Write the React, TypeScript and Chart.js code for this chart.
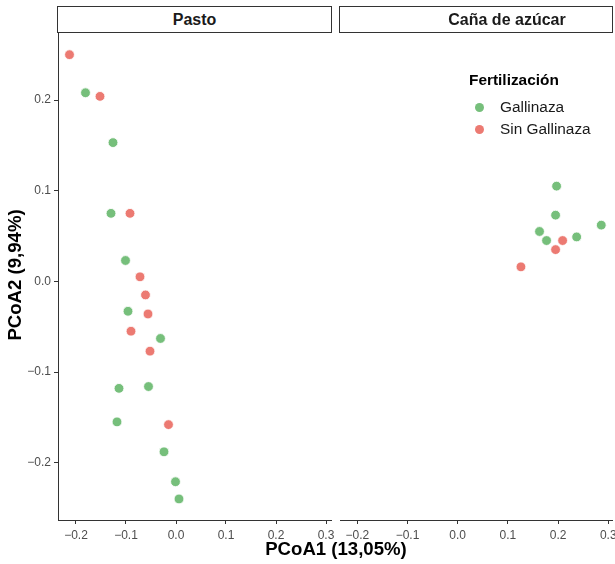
import React, { useEffect, useRef } from 'react';
import { Chart, registerables } from 'chart.js';

Chart.register(...registerables);

// ---- data ----
const xTickValues = [-0.2, -0.1, 0, 0.1, 0.2, 0.3];
const yTickValues = [-0.2, -0.1, 0, 0.1, 0.2];

const groupLabels = ['Gallinaza', 'Sin Gallinaza'];
const panelLabels = ['Pasto', 'Caña de azúcar'];

const pastoGallinazaX = [-0.181, -0.126, -0.130, -0.101, -0.096, -0.031, -0.114, -0.055, -0.118, -0.024, -0.001, 0.006];
const pastoGallinazaY = [0.208, 0.153, 0.075, 0.023, -0.033, -0.063, -0.118, -0.116, -0.155, -0.188, -0.221, -0.240];
const pastoSinX = [-0.213, -0.152, -0.092, -0.072, -0.061, -0.056, -0.090, -0.052, -0.015];
const pastoSinY = [0.250, 0.204, 0.075, 0.005, -0.015, -0.036, -0.055, -0.077, -0.158];

const canaGallinazaX = [0.197, 0.195, 0.163, 0.177, 0.237, 0.286];
const canaGallinazaY = [0.105, 0.073, 0.055, 0.045, 0.049, 0.062];
const canaSinX = [0.209, 0.195, 0.126];
const canaSinY = [0.045, 0.035, 0.016];

const GREEN = '#76BF7B';
const RED = '#EC7A72';
const FONT = '"Liberation Sans", Arial, Helvetica, sans-serif';

const toPoints = (xs: number[], ys: number[]) => xs.map((x, i) => ({ x, y: ys[i] }));

const fmt = (v: number) => {
  const s = Math.abs(v) < 1e-9 ? '0.0' : v.toFixed(1);
  return s.replace('-', '\u2212');
};

function makeOptions(xMin: number, xMax: number, showY: boolean, padRight: number): any {
  const zeroPad = (s: any) => {
    s.paddingTop = 0;
    s.paddingBottom = 0;
    s.paddingLeft = 0;
    s.paddingRight = 0;
  };
  return {
    responsive: false,
    maintainAspectRatio: false,
    animation: false,
    layout: { autoPadding: false, padding: { left: 0, right: padRight, top: 0, bottom: 0 } },
    plugins: { legend: { display: false }, tooltip: { enabled: false } },
    scales: {
      x: {
        type: 'linear',
        min: xMin,
        max: xMax,
        afterBuildTicks: (s: any) => {
          s.ticks = xTickValues.map((v) => ({ value: v }));
        },
        afterFit: (s: any) => {
          s.height = 44;
          zeroPad(s);
        },
        grid: { display: true, drawOnChartArea: false, drawTicks: true, tickLength: 4, color: '#333333', tickColor: '#333333' },
        border: { display: true, color: '#333333', width: 1 },
        ticks: {
          color: '#4D4D4D',
          font: { family: FONT, size: 12 },
          padding: 4,
          maxRotation: 0,
          autoSkip: false,
          callback: (v: any) => fmt(Number(v)),
        },
      },
      y: {
        type: 'linear',
        display: showY,
        min: -0.2632,
        max: 0.275,
        afterBuildTicks: (s: any) => {
          s.ticks = yTickValues.map((v) => ({ value: v }));
        },
        afterFit: (s: any) => {
          s.width = showY ? 58 : 0;
          zeroPad(s);
        },
        grid: { display: true, drawOnChartArea: false, drawTicks: true, tickLength: 4, color: '#333333', tickColor: '#333333' },
        border: { display: true, color: '#333333', width: 1 },
        ticks: {
          color: '#4D4D4D',
          font: { family: FONT, size: 12 },
          padding: 3,
          autoSkip: false,
          callback: (v: any) => fmt(Number(v)),
        },
      },
    },
  };
}

function makeDatasets(gx: number[], gy: number[], sx: number[], sy: number[]) {
  const common = { pointRadius: 4.9, pointBorderWidth: 1, pointBorderColor: 'rgba(255,255,255,0.85)', showLine: false, clip: false };
  return [
    { label: groupLabels[0], data: toPoints(gx, gy), backgroundColor: GREEN, pointBackgroundColor: GREEN, ...common },
    { label: groupLabels[1], data: toPoints(sx, sy), backgroundColor: RED, pointBackgroundColor: RED, ...common },
  ];
}

export default function App() {
  const leftRef = useRef<HTMLCanvasElement | null>(null);
  const rightRef = useRef<HTMLCanvasElement | null>(null);

  useEffect(() => {
    const left = new Chart(leftRef.current as HTMLCanvasElement, {
      type: 'scatter',
      data: { datasets: makeDatasets(pastoGallinazaX, pastoGallinazaY, pastoSinX, pastoSinY) as any },
      options: makeOptions(-0.236, 0.31, true, 9),
    });
    const right = new Chart(rightRef.current as HTMLCanvasElement, {
      type: 'scatter',
      data: { datasets: makeDatasets(canaGallinazaX, canaGallinazaY, canaSinX, canaSinY) as any },
      options: makeOptions(-0.2345, 0.3074, false, 18),
    });
    return () => {
      left.destroy();
      right.destroy();
    };
  }, []);

  const strip: React.CSSProperties = {
    position: 'absolute',
    top: 6,
    height: 27,
    boxSizing: 'border-box',
    border: '1px solid #333333',
    background: '#ffffff',
    fontFamily: FONT,
    fontWeight: 'bold',
    fontSize: 16,
    lineHeight: '25px',
    color: '#1A1A1A',
    textAlign: 'center',
    overflow: 'hidden',
  };

  const legendItem = (y: number, color: string, text: string) => (
    <React.Fragment key={text}>
      <div
        style={{
          position: 'absolute',
          left: 479 - 4.5,
          top: y - 4.5,
          width: 9,
          height: 9,
          borderRadius: '50%',
          background: color,
        }}
      />
      <div
        style={{
          position: 'absolute',
          left: 500,
          top: y - 10,
          height: 20,
          lineHeight: '20px',
          fontFamily: FONT,
          fontSize: 15.4,
          color: '#1A1A1A',
          whiteSpace: 'nowrap',
        }}
      >
        {text}
      </div>
    </React.Fragment>
  );

  return (
    <div
      style={{
        position: 'absolute',
        left: 0,
        top: 0,
        width: 615,
        height: 564,
        overflow: 'hidden',
        background: '#ffffff',
      }}
    >
      <canvas
        ref={leftRef}
        width={340}
        height={532}
        style={{ position: 'absolute', left: 0, top: 32, width: 340, height: 532, display: 'block' }}
      />
      <canvas
        ref={rightRef}
        width={290}
        height={532}
        style={{ position: 'absolute', left: 340, top: 32, width: 290, height: 532, display: 'block' }}
      />

      <div style={{ ...strip, left: 57, width: 275 }}>{panelLabels[0]}</div>
      <div style={{ ...strip, left: 339, width: 274 }}>
        <div style={{ position: 'absolute', left: 0, top: 0, width: 334, textAlign: 'center' }}>{panelLabels[1]}</div>
      </div>

      <div
        style={{
          position: 'absolute',
          left: 469,
          top: 70,
          height: 20,
          lineHeight: '20px',
          fontFamily: FONT,
          fontWeight: 'bold',
          fontSize: 15.4,
          color: '#000000',
          whiteSpace: 'nowrap',
        }}
      >
        Fertilización
      </div>
      {legendItem(107, GREEN, groupLabels[0])}
      {legendItem(129, RED, groupLabels[1])}

      <div
        style={{
          position: 'absolute',
          left: 0,
          width: 672,
          top: 539,
          height: 20,
          lineHeight: '20px',
          textAlign: 'center',
          fontFamily: FONT,
          fontWeight: 'bold',
          fontSize: 18.6,
          color: '#000000',
          whiteSpace: 'nowrap',
        }}
      >
        PCoA1 (13,05%)
      </div>
      <div
        style={{
          position: 'absolute',
          left: 15 - 150,
          top: 275 - 10,
          width: 300,
          height: 20,
          lineHeight: '20px',
          textAlign: 'center',
          fontFamily: FONT,
          fontWeight: 'bold',
          fontSize: 18.6,
          color: '#000000',
          whiteSpace: 'nowrap',
          transform: 'rotate(-90deg)',
        }}
      >
        PCoA2 (9,94%)
      </div>
    </div>
  );
}
